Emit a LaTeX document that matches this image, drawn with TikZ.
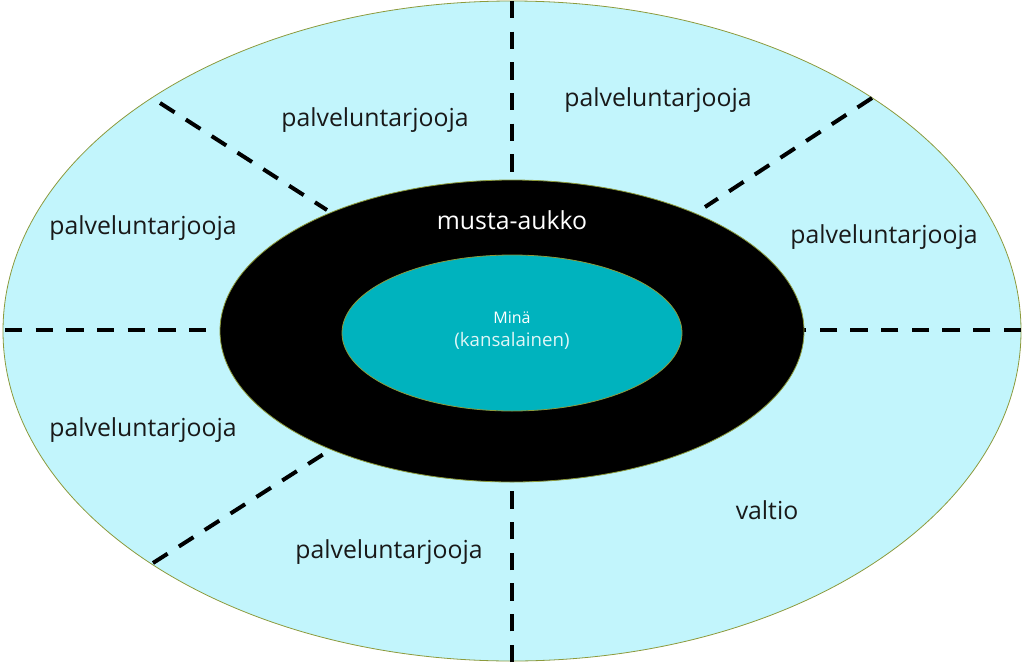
\documentclass[tikz,border=0pt]{standalone}
\usepackage{fontspec}
\setmainfont{Open Sans}
\definecolor{sky}{HTML}{C2F5FC}
\definecolor{teal2}{HTML}{00B3BE}
\definecolor{rim}{HTML}{8C9A3C}
\begin{document}
\begin{tikzpicture}[
    x=0.75pt, y=-0.75pt,
    ring/.style={draw=rim, line width=0.6pt},
    divider/.style={line width=3pt, dash pattern=on 13pt off 10pt},
    lbl/.style={font=\fontsize{18.6}{22}\selectfont, text=black!90},
  ]
  \useasboundingbox (0,0) rectangle (1024,664);

  %% ================================================================
  %% Ellipses
  %% ================================================================
  \fill[sky, ring] (512,331) ellipse [x radius=509, y radius=330];

  %% dividers (drawn before the black ring, which hides their inner ends)
  \coordinate (Ntop) at (512,1);     \coordinate (Nin)  at (512,200);
  \coordinate (Sbot) at (512,662);   \coordinate (Sin)  at (512,460);
  \coordinate (Wout) at (5,330);     \coordinate (Win)  at (240,330);
  \coordinate (Eout) at (1021,330);  \coordinate (Ein)  at (790,330);
  \coordinate (NWo)  at (160,103);   \coordinate (NWi)  at (327,210);
  \coordinate (NEo)  at (872,98);    \coordinate (NEi)  at (705,207);
  \coordinate (SWo)  at (153,563);   \coordinate (SWi)  at (330,450);

  \draw[divider] (Ntop) -- (Nin);
  \draw[divider] (Sbot) -- (Sin);
  \draw[divider] (Wout) -- (Win);
  \draw[divider] (Eout) -- (Ein);
  \draw[divider] (NWo) -- (NWi);
  \draw[divider] (NEo) -- (NEi);
  \draw[divider] (SWo) -- (SWi);

  \fill[black, ring] (512,331) ellipse [x radius=292, y radius=151];
  \fill[teal2, ring] (512,333) ellipse [x radius=170, y radius=78];

  %% ================================================================
  %% Labels
  %% ================================================================
  \node[lbl] (p1) at (375,120) {palveluntarjooja};
  \node[lbl] (p2) at (658,100) {palveluntarjooja};
  \node[lbl] (p3) at (143,228) {palveluntarjooja};
  \node[lbl] (p4) at (884,237) {palveluntarjooja};
  \node[lbl] (p5) at (143,430) {palveluntarjooja};
  \node[lbl] (p6) at (389,552) {palveluntarjooja};
  \node[lbl] (state) at (767,510) {valtio};

  \node[lbl, text=white] (hole) at (512,220) {musta-aukko};
  \node[font=\fontsize{12}{14}\selectfont, text=white] (me) at (512,318) {Minä};
  \node[font=\fontsize{14}{17}\selectfont, text=white!88!teal2] (citizen)
    at (512,341) {(kansalainen)};

\end{tikzpicture}
\end{document}
